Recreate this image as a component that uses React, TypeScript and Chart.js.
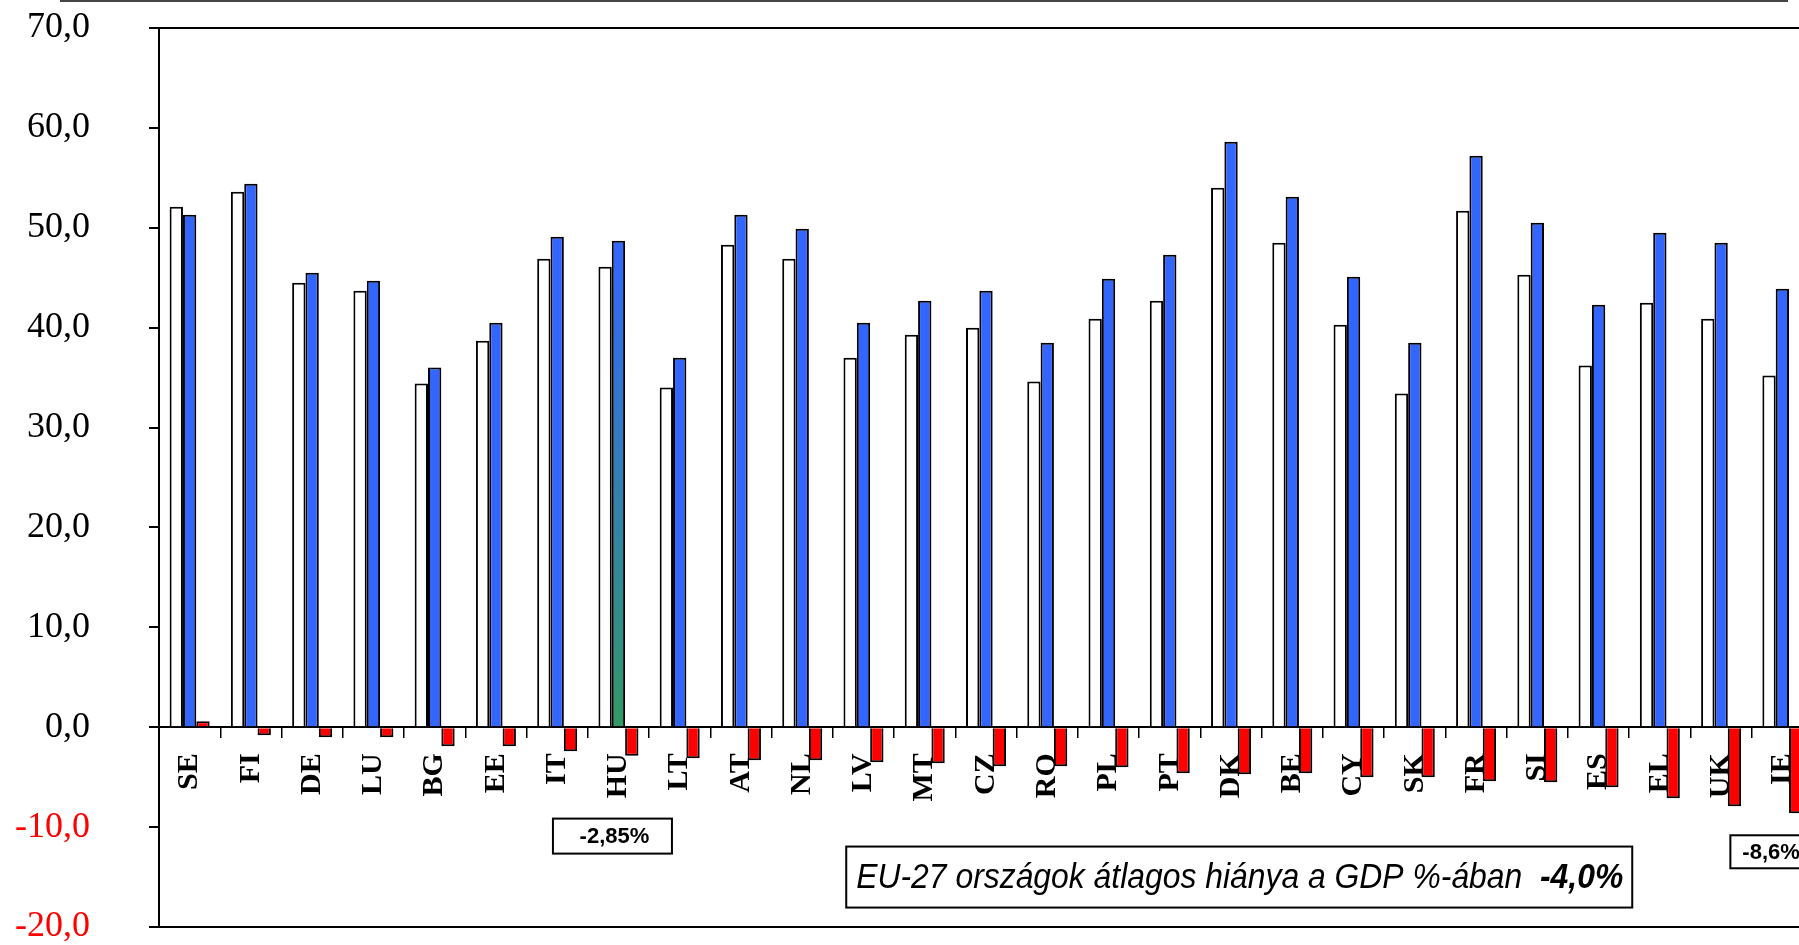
import React, { useEffect, useRef } from 'react';
import { Chart, registerables } from 'chart.js';

Chart.register(...registerables);

// ---- data ----
const categories = ['SE', 'FI', 'DE', 'LU', 'BG', 'EE', 'IT', 'HU', 'LT', 'AT', 'NL', 'LV', 'MT', 'CZ', 'RO', 'PL', 'PT', 'DK', 'BE', 'CY', 'SK', 'FR', 'SI', 'ES', 'EL', 'UK', 'IE'];
const revenue = [52.1, 53.6, 44.5, 43.7, 34.4, 38.7, 46.9, 46.1, 34.0, 48.3, 46.9, 37.0, 39.3, 40.0, 34.6, 40.9, 42.7, 54.0, 48.5, 40.3, 33.4, 51.7, 45.3, 36.2, 42.5, 40.9, 35.2];
const expenditure = [51.3, 54.4, 45.5, 44.7, 36.0, 40.5, 49.1, 48.7, 37.0, 51.3, 49.9, 40.5, 42.7, 43.7, 38.5, 44.9, 47.3, 58.6, 53.1, 45.1, 38.5, 57.2, 50.5, 42.3, 49.5, 48.5, 43.9];
const balance = [0.6, -0.8, -1.0, -1.0, -1.9, -1.9, -2.4, -2.85, -3.1, -3.3, -3.3, -3.5, -3.6, -3.9, -3.9, -4.0, -4.6, -4.7, -4.6, -5.0, -5.0, -5.4, -5.5, -6.0, -7.1, -7.9, -8.6];
const yMin = -20;
const yMax = 70;
const yStep = 10;
const highlightCategory = 'HU';

const huLabel = '-2,85%';
const ieLabel = '-8,6%';
const euLabelItalic = 'EU-27 országok átlagos hiánya a GDP %-ában  ';
const euLabelBold = '-4,0%';

const BLUE = '#3366FF';
const GREEN = '#339966';
const RED = '#FF0000';

const fmt = (v: number) => v.toFixed(1).replace('.', ',');

const boxesPlugin = {
  id: 'boxes',
  afterDraw(chart: any) {
    const { ctx } = chart;
    const xs = chart.scales.x;
    const ys = chart.scales.y;
    const drawBox = (left: number, cy: number, w: number, h: number) => {
      ctx.save();
      ctx.fillStyle = '#fff';
      ctx.strokeStyle = '#000';
      ctx.lineWidth = 2;
      ctx.fillRect(left, cy - h / 2, w, h);
      ctx.strokeRect(left, cy - h / 2, w, h);
      ctx.restore();
    };
    // HU box
    {
      const cx = xs.getPixelForValue(categories.indexOf('HU')) - 6;
      const cy = ys.getPixelForValue(-10.9);
      const w = 119, h = 35;
      drawBox(cx - w / 2, cy, w, h);
      ctx.save();
      ctx.font = 'bold 22px "Liberation Sans", Arial, sans-serif';
      ctx.fillStyle = '#000';
      ctx.textAlign = 'center';
      ctx.textBaseline = 'middle';
      ctx.fillText(huLabel, cx + 2, cy + 1);
      ctx.restore();
    }
    // IE box
    {
      const c = xs.getPixelForValue(categories.indexOf('IE'));
      const left = c - 52;
      const cy = ys.getPixelForValue(-12.47);
      const w = 84, h = 33;
      drawBox(left, cy, w, h);
      ctx.save();
      ctx.font = 'bold 22px "Liberation Sans", Arial, sans-serif';
      ctx.fillStyle = '#000';
      ctx.textAlign = 'left';
      ctx.textBaseline = 'middle';
      ctx.fillText(ieLabel, left + 12, cy + 1);
      ctx.restore();
    }
    // EU box
    {
      const left = xs.getPixelForValue(categories.indexOf('MT')) - 78.5;
      const cy = ys.getPixelForValue(-15.0);
      const w = 786, h = 61;
      drawBox(left, cy, w, h);
      ctx.save();
      ctx.fillStyle = '#000';
      ctx.textBaseline = 'middle';
      const f1 = 'italic 35px "Liberation Sans", Arial, sans-serif';
      const f2 = 'italic bold 35px "Liberation Sans", Arial, sans-serif';
      ctx.font = f1;
      const w1 = ctx.measureText(euLabelItalic).width;
      ctx.font = f2;
      const w2 = ctx.measureText(euLabelBold).width;
      const target = 767;
      const sx = target / (w1 + w2);
      ctx.translate(left + 10, cy + 1);
      ctx.scale(sx, 1);
      ctx.font = f1;
      ctx.fillText(euLabelItalic, 0, 0);
      ctx.font = f2;
      ctx.fillText(euLabelBold, w1, 0);
      ctx.restore();
    }
  },
};

export default function App() {
  const ref = useRef<HTMLCanvasElement | null>(null);

  useEffect(() => {
    if (!ref.current) return;
    const chart = new Chart(ref.current, {
      type: 'bar',
      data: {
        labels: categories,
        datasets: [
          {
            label: 'Bevételek',
            data: revenue,
            backgroundColor: '#FFFFFF',
            borderColor: '#000000',
            borderWidth: 2,
          },
          {
            label: 'Kiadások',
            data: expenditure,
            borderColor: '#000000',
            borderWidth: 2,
            backgroundColor: (c: any) => {
              if (c.type !== 'data' || categories[c.dataIndex] !== highlightCategory) return BLUE;
              const ys = c.chart.scales && c.chart.scales.y;
              if (!ys) return BLUE;
              const top = ys.getPixelForValue(c.raw);
              const bot = ys.getPixelForValue(0);
              if (!isFinite(top) || !isFinite(bot) || top === bot) return BLUE;
              const g = c.chart.ctx.createLinearGradient(0, top, 0, bot);
              g.addColorStop(0, BLUE);
              g.addColorStop(1, GREEN);
              return g;
            },
          },
          {
            label: 'Egyenleg',
            data: balance,
            backgroundColor: RED,
            borderColor: '#000000',
            borderWidth: 2,
          },
        ],
      },
      options: {
        animation: false,
        responsive: false,
        devicePixelRatio: 1,
        layout: { padding: { left: 0, top: 100, right: 47, bottom: 100 } },
        datasets: { bar: { categoryPercentage: 0.653, barPercentage: 1.0 } },
        plugins: {
          legend: { display: false },
          tooltip: { enabled: false },
          title: { display: false },
        },
        scales: {
          x: {
            type: 'category',
            position: { y: 0 } as any,
            offset: true,
            afterFit: (s: any) => {
              s.height = 0;
            },
            grid: {
              display: true,
              offset: true,
              drawOnChartArea: false,
              drawTicks: true,
              tickLength: 10,
              color: '#000',
              lineWidth: 1.5,
            },
            border: { display: true, color: '#000', width: 2 },
            ticks: {
              autoSkip: false,
              minRotation: 90,
              maxRotation: 90,
              padding: 16,
              color: '#000',
              font: { family: '"Liberation Serif", "Times New Roman", serif', weight: 'bold', size: 30 },
            },
          },
          y: {
            type: 'linear',
            position: 'left',
            min: yMin,
            max: yMax,
            afterFit: (s: any) => {
              s.width = 159;
            },
            ticks: {
              stepSize: yStep,
              padding: 59,
              color: (c: any) => (c.tick && c.tick.value < 0 ? '#FF0000' : '#000000'),
              font: { family: '"Liberation Serif", "Times New Roman", serif', size: 36 },
              callback: (v: any) => fmt(Number(v)),
            },
            grid: {
              display: true,
              drawOnChartArea: true,
              drawTicks: true,
              tickLength: 10,
              lineWidth: 2,
              tickWidth: 2,
              tickColor: '#000',
              color: (c: any) =>
                c.tick && (c.tick.value === yMax || c.tick.value === yMin) ? '#000' : 'rgba(0,0,0,0)',
            },
            border: { display: true, color: '#000', width: 2 },
          },
        },
      },
      plugins: [boxesPlugin],
    });
    return () => chart.destroy();
  }, []);

  return (
    <div
      style={{
        position: 'fixed',
        left: 0,
        top: 0,
        width: 1799,
        height: 945,
        overflow: 'hidden',
        background: '#fff',
      }}
    >
      <div style={{ position: 'absolute', left: 60, top: 0, width: 1728, height: 2, background: '#444' }} />
      <canvas
        ref={ref}
        width={1860}
        height={1099}
        style={{ position: 'absolute', left: 0, top: -72, width: 1860, height: 1099 }}
      />
    </div>
  );
}
